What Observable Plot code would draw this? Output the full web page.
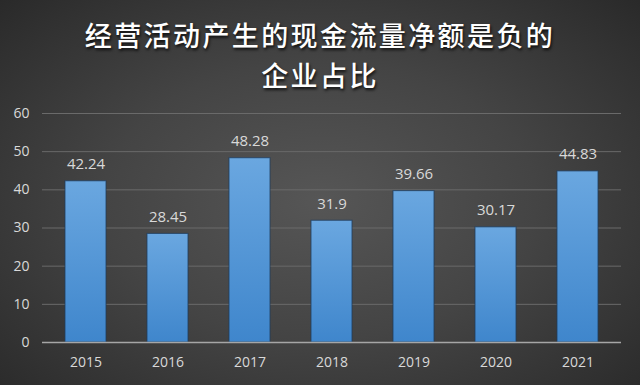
<!DOCTYPE html>
<html>
<head>
<meta charset="utf-8">
<script src="https://cdn.jsdelivr.net/npm/d3@7"></script>
<script src="https://cdn.jsdelivr.net/npm/@observablehq/plot@0.6"></script>
<style>
  html, body { margin: 0; padding: 0; }
  body {
    width: 640px; height: 385px; overflow: hidden;
    background: radial-gradient(ellipse 75% 80% at 50% 52%, #565656 0%, #444 45%, #262626 100%);
    font-family: "Open Sans", "Noto Sans CJK SC", sans-serif;
  }
  #title {
    height: 100px; box-sizing: border-box; padding-top: 15px;
    text-align: center; color: #fff;
    font-family: "Noto Sans CJK SC", sans-serif; font-weight: 500;
    font-size: 27px; letter-spacing: 2.4px;
    text-shadow: 1px 2px 3px rgba(0,0,0,0.8);
  }
  #title div { height: 40px; line-height: 40px; }
  svg { display: block; background: transparent; }
</style>
</head>
<body>
<div id="title"><div>经营活动产生的现金流量净额是负的</div><div>企业占比</div></div>
<div id="chart"></div>
<script>
const years = ["2015", "2016", "2017", "2018", "2019", "2020", "2021"];
const values = [42.24, 28.45, 48.28, 31.9, 39.66, 30.17, 44.83];
const labels = ["42.24", "28.45", "48.28", "31.9", "39.66", "30.17", "44.83"];
const yTicks = [0, 10, 20, 30, 40, 50, 60];

const data = years.map((y, i) => ({year: y, value: values[i], label: labels[i]}));

const chart = Plot.plot({
  width: 640,
  height: 285,
  marginTop: 13,
  marginBottom: 43,
  marginLeft: 42,
  marginRight: 19,
  style: {background: "transparent", color: "#d9d9d9", fontSize: "14px", fontFamily: "'Open Sans', sans-serif"},
  x: {domain: years, paddingInner: 0.5, paddingOuter: 0.25, label: null, tickSize: 0, tickPadding: 15},
  y: {domain: [0, 60], ticks: yTicks, label: null, tickSize: 0, tickPadding: 13},
  marks: [
    Plot.gridY(yTicks.filter(d => d > 0), {stroke: "#6a6a6a", strokeOpacity: 1, strokeWidth: 1}),
    Plot.barY(data, {x: "year", y: "value", fill: "url(#barGrad)", stroke: "#1f3d5e", strokeWidth: 1, strokeOpacity: 0.8}),
    Plot.ruleY([0], {stroke: "#a6a6a6", strokeWidth: 1.5}),
    Plot.text(data, {x: "year", y: "value", text: "label", dy: -17, fill: "#d9d9d9", fontSize: 15})
  ]
});

const defs = d3.select(chart).insert("defs", ":first-child");
const grad = defs.append("linearGradient").attr("id", "barGrad").attr("x1", 0).attr("y1", 0).attr("x2", 0).attr("y2", 1);
grad.append("stop").attr("offset", "0%").attr("stop-color", "#6aa7e0");
grad.append("stop").attr("offset", "100%").attr("stop-color", "#3f86cc");

document.getElementById("chart").appendChild(chart);
</script>
</body>
</html>
